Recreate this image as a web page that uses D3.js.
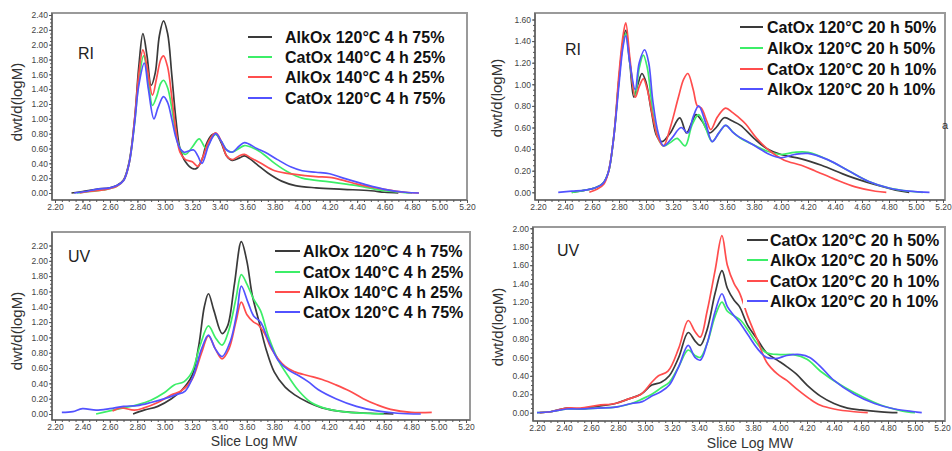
<!DOCTYPE html>
<html>
<head>
<meta charset="utf-8">
<script src="https://cdn.jsdelivr.net/npm/d3@7"></script>
<style>
body { margin: 0; background: #fff; }
svg { display: block; font-family: "Liberation Sans", Arial, sans-serif; }
</style>
</head>
<body>
<script>
// ---- tick labels ----
const xTickValues = [2.2, 2.4, 2.6, 2.8, 3.0, 3.2, 3.4, 3.6, 3.8, 4.0, 4.2, 4.4, 4.6, 4.8, 5.0, 5.2];
const yTicksRI4h = [0, 0.2, 0.4, 0.6, 0.8, 1.0, 1.2, 1.4, 1.6, 1.8, 2.0, 2.2, 2.4];
const yTicksRI20h = [0, 0.2, 0.4, 0.6, 0.8, 1.0, 1.2, 1.4, 1.6];
const yTicksUV4h = [0, 0.2, 0.4, 0.6, 0.8, 1.0, 1.2, 1.4, 1.6, 1.8, 2.0, 2.2];
const yTicksUV20h = [0, 0.2, 0.4, 0.6, 0.8, 1.0, 1.2, 1.4, 1.6, 1.8, 2.0];

// ---- legend names ----
const names4h = ["AlkOx 120°C 4 h 75%", "CatOx 140°C 4 h 25%", "AlkOx 140°C 4 h 25%", "CatOx 120°C 4 h 75%"];
const names20h = ["CatOx 120°C 20 h 50%", "AlkOx 120°C 20 h 50%", "CatOx 120°C 20 h 10%", "AlkOx 120°C 20 h 10%"];
const seriesColors = ["#3a3a3a", "#3cee68", "#ff4d4d", "#5252ff"];

// ---- RI, 4 h ----
const ri4hAlk120 = [[2.32,0],[2.4,0.02],[2.5,0.05],[2.6,0.07],[2.65,0.1],[2.7,0.18],[2.74,0.42],[2.78,1.0],[2.81,1.7],[2.84,2.15],[2.87,1.85],[2.9,1.45],[2.93,1.62],[2.96,2.12],[2.99,2.32],[3.02,2.15],[3.05,1.6],[3.08,1.0],[3.11,0.6],[3.15,0.42],[3.2,0.33],[3.23,0.33],[3.27,0.45],[3.3,0.65],[3.34,0.78],[3.37,0.8],[3.41,0.68],[3.45,0.5],[3.49,0.44],[3.54,0.47],[3.58,0.5],[3.62,0.46],[3.68,0.37],[3.75,0.27],[3.85,0.16],[3.95,0.1],[4.1,0.07],[4.3,0.05],[4.5,0.03],[4.6,0.01],[4.7,0]];
const ri4hCat140 = [[2.36,0],[2.45,0.02],[2.55,0.04],[2.65,0.09],[2.7,0.17],[2.74,0.4],[2.78,0.95],[2.81,1.5],[2.845,1.85],[2.88,1.5],[2.91,1.18],[2.94,1.3],[2.97,1.48],[2.99,1.52],[3.02,1.42],[3.05,1.15],[3.08,0.8],[3.11,0.6],[3.15,0.52],[3.2,0.62],[3.25,0.73],[3.3,0.6],[3.34,0.74],[3.37,0.79],[3.41,0.7],[3.45,0.58],[3.49,0.55],[3.54,0.6],[3.58,0.64],[3.65,0.6],[3.72,0.52],[3.8,0.4],[3.9,0.28],[4.0,0.2],[4.2,0.15],[4.4,0.1],[4.6,0.03],[4.75,0.005],[4.8,0]];
const ri4hAlk140 = [[2.38,0],[2.45,0.02],[2.55,0.04],[2.65,0.09],[2.7,0.17],[2.74,0.4],[2.78,1.0],[2.81,1.6],[2.84,1.93],[2.87,1.7],[2.91,1.32],[2.94,1.55],[2.97,1.8],[2.99,1.85],[3.02,1.7],[3.05,1.3],[3.08,0.85],[3.11,0.55],[3.15,0.45],[3.2,0.42],[3.24,0.36],[3.28,0.5],[3.32,0.7],[3.37,0.81],[3.41,0.7],[3.45,0.5],[3.49,0.45],[3.54,0.5],[3.58,0.52],[3.63,0.47],[3.7,0.4],[3.8,0.3],[3.95,0.25],[4.1,0.22],[4.2,0.21],[4.3,0.17],[4.4,0.12],[4.6,0.05],[4.75,0.01],[4.85,0]];
const ri4hCat120 = [[2.34,0],[2.42,0.02],[2.5,0.05],[2.6,0.07],[2.65,0.1],[2.7,0.17],[2.74,0.4],[2.78,0.95],[2.81,1.45],[2.85,1.75],[2.88,1.4],[2.92,1.0],[2.95,1.15],[2.99,1.3],[3.02,1.22],[3.05,1.0],[3.08,0.75],[3.11,0.6],[3.14,0.55],[3.21,0.58],[3.24,0.5],[3.27,0.4],[3.32,0.65],[3.37,0.8],[3.41,0.7],[3.45,0.58],[3.49,0.55],[3.54,0.63],[3.58,0.68],[3.67,0.6],[3.73,0.55],[3.82,0.45],[3.92,0.35],[4.0,0.3],[4.1,0.28],[4.2,0.26],[4.3,0.2],[4.45,0.12],[4.6,0.05],[4.75,0.01],[4.85,0]];

// ---- RI, 20 h ----
const ri20hCat50 = [[2.45,0],[2.55,0.02],[2.62,0.04],[2.68,0.08],[2.72,0.18],[2.76,0.5],[2.8,1.05],[2.83,1.4],[2.85,1.5],[2.88,1.2],[2.91,0.88],[2.94,1.0],[2.97,1.1],[3.0,1.02],[3.04,0.75],[3.08,0.52],[3.12,0.47],[3.18,0.55],[3.25,0.69],[3.3,0.55],[3.34,0.65],[3.37,0.72],[3.42,0.65],[3.47,0.55],[3.52,0.6],[3.58,0.69],[3.64,0.66],[3.7,0.62],[3.8,0.5],[3.9,0.4],[4.0,0.35],[4.15,0.31],[4.3,0.25],[4.5,0.15],[4.7,0.07],[4.85,0.02],[4.95,0]];
const ri20hAlk50 = [[2.45,0],[2.55,0.02],[2.62,0.04],[2.68,0.08],[2.72,0.18],[2.76,0.5],[2.8,1.05],[2.83,1.38],[2.85,1.47],[2.88,1.2],[2.92,0.9],[2.95,1.15],[2.98,1.27],[3.01,1.15],[3.05,0.75],[3.09,0.5],[3.13,0.43],[3.18,0.46],[3.23,0.5],[3.29,0.43],[3.34,0.62],[3.39,0.72],[3.44,0.6],[3.49,0.47],[3.54,0.55],[3.59,0.62],[3.65,0.55],[3.7,0.5],[3.78,0.45],[3.9,0.38],[4.0,0.35],[4.1,0.37],[4.2,0.37],[4.35,0.3],[4.5,0.2],[4.65,0.1],[4.8,0.04],[4.95,0.01],[5.05,0]];
const ri20hCat10 = [[2.58,0],[2.64,0.03],[2.69,0.08],[2.72,0.18],[2.76,0.5],[2.8,1.1],[2.83,1.45],[2.85,1.57],[2.88,1.25],[2.92,0.88],[2.95,0.98],[2.98,1.05],[3.01,0.95],[3.05,0.7],[3.09,0.5],[3.13,0.43],[3.18,0.6],[3.24,0.88],[3.28,1.05],[3.31,1.1],[3.35,0.95],[3.38,0.8],[3.41,0.78],[3.45,0.66],[3.48,0.58],[3.53,0.7],[3.59,0.78],[3.64,0.74],[3.68,0.7],[3.74,0.63],[3.82,0.5],[3.92,0.38],[4.02,0.3],[4.15,0.25],[4.25,0.2],[4.4,0.12],[4.55,0.05],[4.7,0.01],[4.78,0]];
const ri20hAlk10 = [[2.35,0],[2.45,0.01],[2.55,0.02],[2.62,0.04],[2.68,0.08],[2.72,0.18],[2.76,0.5],[2.8,1.0],[2.83,1.35],[2.85,1.45],[2.88,1.2],[2.92,0.95],[2.95,1.2],[2.99,1.32],[3.02,1.2],[3.05,0.85],[3.09,0.55],[3.13,0.43],[3.19,0.5],[3.26,0.6],[3.31,0.55],[3.35,0.7],[3.39,0.8],[3.44,0.65],[3.49,0.47],[3.54,0.55],[3.59,0.62],[3.64,0.56],[3.68,0.52],[3.75,0.47],[3.82,0.42],[3.9,0.36],[4.0,0.32],[4.1,0.35],[4.2,0.36],[4.35,0.3],[4.5,0.2],[4.65,0.1],[4.8,0.04],[4.95,0.01],[5.1,0]];

// ---- UV, 4 h ----
const uv4hAlk120 = [[2.77,0],[2.85,0.05],[2.95,0.1],[3.05,0.2],[3.12,0.3],[3.2,0.5],[3.25,0.9],[3.29,1.4],[3.32,1.57],[3.36,1.35],[3.42,1.05],[3.46,1.15],[3.51,1.7],[3.56,2.25],[3.6,2.0],[3.64,1.55],[3.69,1.2],[3.74,0.85],[3.8,0.55],[3.88,0.35],[3.95,0.25],[4.05,0.15],[4.15,0.08],[4.3,0.03],[4.5,0.01],[4.67,0]];
const uv4hCat140 = [[2.5,0],[2.6,0.04],[2.7,0.08],[2.8,0.12],[2.9,0.18],[3.0,0.28],[3.07,0.38],[3.14,0.42],[3.2,0.55],[3.26,0.9],[3.32,1.15],[3.37,1.0],[3.42,0.9],[3.47,1.1],[3.52,1.5],[3.56,1.82],[3.6,1.7],[3.65,1.5],[3.7,1.35],[3.76,1.0],[3.83,0.7],[3.9,0.5],[3.98,0.3],[4.07,0.15],[4.2,0.06],[4.35,0.02],[4.6,0]];
const uv4hAlk140 = [[2.62,0.04],[2.68,0.08],[2.78,0.05],[2.85,0.08],[2.95,0.15],[3.05,0.25],[3.12,0.3],[3.2,0.45],[3.27,0.8],[3.32,1.02],[3.37,0.85],[3.42,0.72],[3.47,0.85],[3.52,1.2],[3.56,1.46],[3.6,1.3],[3.65,1.2],[3.68,1.17],[3.73,1.05],[3.78,0.85],[3.88,0.62],[3.95,0.55],[4.05,0.5],[4.15,0.45],[4.25,0.38],[4.35,0.3],[4.45,0.2],[4.55,0.12],[4.65,0.06],[4.8,0.02],[4.95,0.02]];
const uv4hCat120 = [[2.25,0.02],[2.33,0.03],[2.4,0.07],[2.5,0.05],[2.6,0.07],[2.7,0.1],[2.8,0.11],[2.9,0.15],[3.0,0.2],[3.08,0.25],[3.15,0.3],[3.21,0.5],[3.27,0.85],[3.32,1.03],[3.37,0.85],[3.42,0.75],[3.48,0.95],[3.53,1.35],[3.56,1.67],[3.61,1.45],[3.65,1.28],[3.7,1.2],[3.76,0.95],[3.83,0.7],[3.9,0.58],[3.98,0.5],[4.05,0.42],[4.12,0.32],[4.25,0.2],[4.4,0.1],[4.55,0.04],[4.7,0.01],[4.87,0]];

// ---- UV, 20 h ----
const uv20hCat50 = [[2.22,0],[2.3,0.01],[2.42,0.05],[2.52,0.04],[2.65,0.07],[2.78,0.1],[2.88,0.15],[2.97,0.2],[3.05,0.3],[3.12,0.33],[3.18,0.4],[3.25,0.6],[3.32,0.87],[3.37,0.78],[3.41,0.73],[3.46,0.9],[3.52,1.3],[3.57,1.54],[3.61,1.35],[3.66,1.22],[3.7,1.15],[3.76,0.95],[3.83,0.8],[3.9,0.65],[3.98,0.57],[4.05,0.5],[4.12,0.42],[4.2,0.3],[4.3,0.18],[4.4,0.1],[4.5,0.05],[4.6,0.03],[4.75,0.01],[4.87,0]];
const uv20hAlk50 = [[2.2,0],[2.3,0.01],[2.42,0.04],[2.5,0.04],[2.65,0.05],[2.78,0.06],[2.9,0.1],[2.98,0.15],[3.05,0.2],[3.12,0.27],[3.18,0.33],[3.25,0.5],[3.32,0.68],[3.37,0.62],[3.41,0.6],[3.46,0.75],[3.52,1.05],[3.57,1.2],[3.61,1.1],[3.66,1.05],[3.71,1.0],[3.77,0.88],[3.83,0.75],[3.9,0.65],[4.0,0.63],[4.1,0.63],[4.2,0.58],[4.3,0.45],[4.45,0.3],[4.6,0.18],[4.75,0.08],[4.9,0.02],[5.0,0]];
const uv20hCat10 = [[2.22,0],[2.3,0.01],[2.42,0.05],[2.52,0.05],[2.65,0.08],[2.78,0.1],[2.88,0.15],[2.97,0.2],[3.05,0.33],[3.1,0.4],[3.17,0.45],[3.25,0.7],[3.32,1.0],[3.37,0.88],[3.41,0.82],[3.46,1.1],[3.52,1.55],[3.57,1.92],[3.61,1.6],[3.66,1.4],[3.7,1.3],[3.76,1.05],[3.83,0.8],[3.9,0.55],[3.98,0.42],[4.05,0.35],[4.13,0.25],[4.22,0.15],[4.3,0.08],[4.4,0.04],[4.55,0.01],[4.65,0]];
const uv20hAlk10 = [[2.2,0],[2.3,0.01],[2.42,0.04],[2.5,0.04],[2.65,0.05],[2.78,0.06],[2.9,0.1],[2.98,0.12],[3.05,0.18],[3.12,0.23],[3.18,0.3],[3.25,0.5],[3.32,0.73],[3.37,0.6],[3.41,0.57],[3.46,0.75],[3.52,1.1],[3.57,1.29],[3.61,1.15],[3.66,1.05],[3.7,0.98],[3.76,0.85],[3.83,0.7],[3.9,0.6],[3.98,0.59],[4.05,0.62],[4.15,0.63],[4.22,0.6],[4.3,0.5],[4.4,0.35],[4.55,0.2],[4.7,0.1],[4.85,0.04],[5.0,0.01],[5.05,0]];

// ---- layout of the four panels ----
const panels = [
  { tag: "RI", names: names4h, series: [ri4hAlk120, ri4hCat140, ri4hAlk140, ri4hCat120], yTicks: yTicksRI4h,
    frame: [52, 467, 13, 200], xr: [55, 467], yr: [193, 15], ymax: 2.4,
    tagPos: [78, 59], yTitle: [17, 102], xTitle: null,
    leg: { x0: 248, x1: 272, tx: 285, ys: [37, 57, 77, 98] }, legBox: null },
  { tag: "RI", names: names20h, series: [ri20hCat50, ri20hAlk50, ri20hCat10, ri20hAlk10], yTicks: yTicksRI20h,
    frame: [535, 945, 13, 200], xr: [538, 943], yr: [192.3, 19.5], ymax: 1.6,
    tagPos: [565, 55], yTitle: [497, 98], xTitle: null,
    leg: { x0: 740, x1: 763, tx: 767, ys: [27, 48, 69, 89] }, legBox: null },
  { tag: "UV", names: names4h, series: [uv4hAlk120, uv4hCat140, uv4hAlk140, uv4hCat120], yTicks: yTicksUV4h,
    frame: [52, 470, 232, 420], xr: [55, 466], yr: [414, 245.5], ymax: 2.2,
    tagPos: [68, 262], yTitle: [17, 331], xTitle: [254, 446],
    leg: { x0: 275, x1: 300, tx: 303, ys: [251, 272, 292, 312] }, legBox: null },
  { tag: "UV", names: names20h, series: [uv20hCat50, uv20hAlk50, uv20hCat10, uv20hAlk10], yTicks: yTicksUV20h,
    frame: [533, 945, 227, 421], xr: [537, 942], yr: [412.7, 228.3], ymax: 2.0,
    tagPos: [557, 256], yTitle: [498, 327], xTitle: [750, 448],
    leg: { x0: 747, x1: 768, tx: 770, ys: [240, 260, 281, 301] }, legBox: [743, 229, 200, 79] }
];

const svg = d3.select("body").append("svg").attr("width", 952).attr("height", 451);

panels.forEach(function (p) {
  const g = svg.append("g");
  const x = d3.scaleLinear().domain([2.2, 5.2]).range(p.xr);
  const y = d3.scaleLinear().domain([0, p.ymax]).range(p.yr);
  const [fx0, fx1, fy0, fy1] = p.frame;

  // grey box (top / right edges)
  g.append("rect").attr("x", fx0).attr("y", fy0).attr("width", fx1 - fx0).attr("height", fy1 - fy0)
    .attr("fill", "#fff").attr("stroke", "#9a9a9a").attr("stroke-width", 2);

  // curves
  const line = d3.line().x(d => x(d[0])).y(d => y(d[1])).curve(d3.curveCatmullRom.alpha(0.5));
  p.series.forEach(function (s, i) {
    g.append("path").datum(s).attr("d", line).attr("fill", "none")
      .attr("stroke", seriesColors[i]).attr("stroke-width", 1.7).attr("stroke-linejoin", "round");
  });

  // legend
  if (p.legBox) {
    g.append("rect").attr("x", p.legBox[0]).attr("y", p.legBox[1]).attr("width", p.legBox[2]).attr("height", p.legBox[3]).attr("fill", "#fff");
  }
  p.names.forEach(function (n, i) {
    const ly = p.leg.ys[i];
    g.append("line").attr("x1", p.leg.x0).attr("x2", p.leg.x1).attr("y1", ly).attr("y2", ly)
      .attr("stroke", seriesColors[i]).attr("stroke-width", 2);
    g.append("text").attr("x", p.leg.tx).attr("y", ly + 5.5).text(n)
      .attr("font-size", 16).attr("font-weight", "bold").attr("fill", "#111");
  });

  // axes
  const minorX = d3.range(2.2, 5.2001, 0.05);
  const minorY = d3.range(0, p.ymax + 0.001, 0.05);
  g.append("g").attr("transform", `translate(0,${fy1})`)
    .call(d3.axisBottom(x).tickValues(minorX).tickSize(2).tickFormat(""))
    .call(a => a.select(".domain").remove())
    .selectAll("line").attr("stroke", "#555");
  const xa = g.append("g").attr("transform", `translate(0,${fy1})`)
    .call(d3.axisBottom(x).tickValues(xTickValues).tickSize(3).tickPadding(1).tickFormat(d3.format(".2f")));
  xa.select(".domain").remove();
  xa.selectAll("line").attr("stroke", "#555");
  xa.selectAll("text").attr("font-size", 8.5).attr("fill", "#444").attr("font-family", "Liberation Sans, Arial, sans-serif");

  g.append("g").attr("transform", `translate(${fx0},0)`)
    .call(d3.axisLeft(y).tickValues(minorY).tickSize(2).tickFormat(""))
    .call(a => a.select(".domain").remove())
    .selectAll("line").attr("stroke", "#555");
  const ya = g.append("g").attr("transform", `translate(${fx0},0)`)
    .call(d3.axisLeft(y).tickValues(p.yTicks).tickSize(3).tickPadding(1).tickFormat(d3.format(".2f")));
  ya.select(".domain").remove();
  ya.selectAll("line").attr("stroke", "#555");
  ya.selectAll("text").attr("font-size", 8.5).attr("fill", "#444").attr("font-family", "Liberation Sans, Arial, sans-serif");

  g.append("line").attr("x1", fx0).attr("x2", fx1).attr("y1", fy1).attr("y2", fy1).attr("stroke", "#555").attr("stroke-width", 1.2);
  g.append("line").attr("x1", fx0).attr("x2", fx0).attr("y1", fy0).attr("y2", fy1).attr("stroke", "#555").attr("stroke-width", 1.2);

  // texts
  g.append("text").attr("x", p.tagPos[0]).attr("y", p.tagPos[1]).text(p.tag).attr("font-size", 16).attr("fill", "#222");
  g.append("text").attr("transform", `translate(${p.yTitle[0]},${p.yTitle[1]}) rotate(-90)`)
    .attr("text-anchor", "middle").attr("dy", "0.35em").text("dwt/d(logM)").attr("font-size", 15).attr("fill", "#333");
  if (p.xTitle) {
    g.append("text").attr("x", p.xTitle[0]).attr("y", p.xTitle[1]).attr("text-anchor", "middle")
      .text("Slice Log MW").attr("font-size", 14).attr("fill", "#333");
  }
});

// stray glyph at right edge of the top right panel
svg.append("text").attr("x", 942).attr("y", 129).text("a").attr("font-size", 11).attr("fill", "#333");
</script>
</body>
</html>
